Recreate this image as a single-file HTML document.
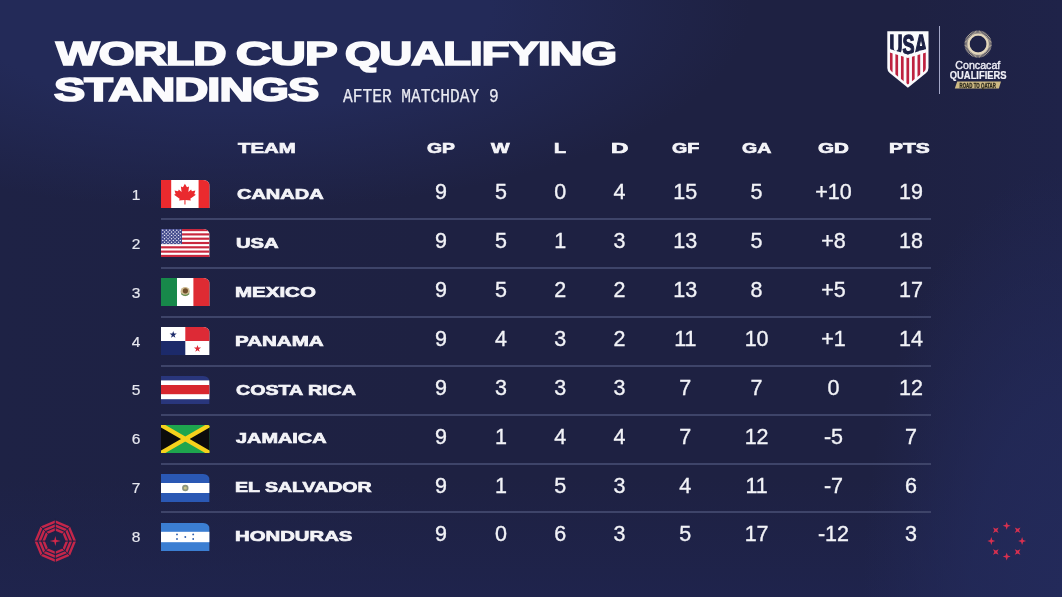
<!DOCTYPE html>
<html><head><meta charset="utf-8"><title>World Cup Qualifying Standings</title>
<style>
*{margin:0;padding:0;box-sizing:border-box}
html,body{width:1062px;height:597px;overflow:hidden}
body{position:relative;background:#1e2143;font-family:"Liberation Sans",Arial,sans-serif}
.bg{position:absolute;left:0;top:0;width:1062px;height:597px;
background:
 radial-gradient(ellipse 200px 430px at 1062px 597px, rgba(35,42,90,1) 0%, rgba(35,42,90,.75) 45%, rgba(35,42,90,0) 100%),
 radial-gradient(ellipse 520px 200px at 230px 10px, rgba(35,42,88,1) 0%, rgba(35,42,88,1) 50%, rgba(35,42,88,0) 100%),
 linear-gradient(180deg,rgba(31,36,78,0) 80%,rgba(31,36,78,.85) 100%),
 linear-gradient(90deg,#1e2245 0%,#1e2142 40%,#1e2142 85%,#1f2349 100%);}
.x{position:absolute;white-space:nowrap;transform-origin:0 0;line-height:1.15}
.c{position:absolute;white-space:nowrap;line-height:1.15;transform:translateX(-50%)}
.tt{font-family:"Liberation Sans",Arial,sans-serif;font-weight:700;font-size:33px;-webkit-text-stroke:1.7px #fbfbfd;letter-spacing:-0.6px;color:#fbfbfd}
.hd{font-family:"Liberation Sans",Arial,sans-serif;font-weight:700;font-size:14.4px;-webkit-text-stroke:0.7px #f4f4f8;color:#f4f4f8}
.sb{font-family:"Liberation Mono",monospace;font-weight:400;font-size:19.5px;-webkit-text-stroke:0.25px #e9eaf2;color:#e9eaf2}
.nu{font-family:"Liberation Sans",Arial,sans-serif;font-weight:400;font-size:21.5px;-webkit-text-stroke:0.35px #f2f3f7;color:#f2f3f7}
.rk{font-family:"Liberation Sans",Arial,sans-serif;font-weight:400;font-size:15.5px;-webkit-text-stroke:0.2px #e6e7ef;color:#e6e7ef}
.ln{position:absolute;left:161px;width:770px;height:2px;background:#3e4469}
.flag{position:absolute;left:161px}
svg{display:block}
</style></head><body>
<div class="bg"></div>

<div class="x tt" style="left:55.60px;top:34.65px;transform:scaleX(1.3959)">WORLD</div>
<div class="x tt" style="left:236.40px;top:34.65px;transform:scaleX(1.4838)">CUP</div>
<div class="x tt" style="left:345.10px;top:34.65px;transform:scaleX(1.3731)">QUALIFYING</div>
<div class="x tt" style="left:54.20px;top:70.75px;transform:scaleX(1.4171)">STANDINGS</div>
<div class="x sb" style="left:343.20px;top:85.70px;transform:scaleX(0.8312)">AFTER MATCHDAY 9</div>
<div class="x hd" style="left:237.50px;top:139.80px;transform:scaleX(1.4125)">TEAM</div>
<div class="x hd" style="left:427.10px;top:139.80px;transform:scaleX(1.3429)">GP</div>
<div class="x hd" style="left:491.30px;top:139.80px;transform:scaleX(1.3643)">W</div>
<div class="x hd" style="left:553.54px;top:139.80px;transform:scaleX(1.3625)">L</div>
<div class="x hd" style="left:610.52px;top:139.80px;transform:scaleX(1.6778)">D</div>
<div class="x hd" style="left:671.60px;top:139.80px;transform:scaleX(1.3650)">GF</div>
<div class="x hd" style="left:741.60px;top:139.80px;transform:scaleX(1.3545)">GA</div>
<div class="x hd" style="left:817.70px;top:139.80px;transform:scaleX(1.4286)">GD</div>
<div class="x hd" style="left:888.94px;top:139.80px;transform:scaleX(1.4556)">PTS</div>
<div class="c rk" style="left:136.00px;top:186.20px">1</div>
<svg class="flag" style="top:180.00px" width="48.6" height="28" viewBox="0 0 48.6 28"><defs><clipPath id="cca"><path d="M0 0H42.1Q48.6 0 48.6 6.5V28H0Z"/></clipPath></defs><g clip-path="url(#cca)"><rect width="48.6" height="28" fill="#fff"/><rect width="10.2" height="28" fill="#ea2a2e"/><rect x="37.6" width="11" height="28" fill="#ea2a2e"/><g transform="translate(23.9 14.2) scale(1.22 1.1) translate(-24.5 -14)"><path d="M24.5 4.6l1.7 3.1 1.7-.8-.6 5.2 2.3-2.3.6 1.5 2.9-.6-.9 3.1 1.3.6-4.6 3.8.5 1.5-4.4-.5v4.2h-.9v-4.2l-4.4.5.5-1.5-4.6-3.8 1.3-.6-.9-3.1 2.9.6.6-1.5 2.3 2.3-.6-5.2 1.7.8z" fill="#ea2a2e"/></g></g></svg>
<div class="x hd" style="left:237.10px;top:186.10px;transform:scaleX(1.3887)">CANADA</div>
<div class="c nu" style="left:440.90px;top:180.40px">9</div>
<div class="c nu" style="left:501.00px;top:180.40px">5</div>
<div class="c nu" style="left:560.20px;top:180.40px">0</div>
<div class="c nu" style="left:619.60px;top:180.40px">4</div>
<div class="c nu" style="left:685.30px;top:180.40px">15</div>
<div class="c nu" style="left:756.60px;top:180.40px">5</div>
<div class="c nu" style="left:833.50px;top:180.40px">+10</div>
<div class="c nu" style="left:911.00px;top:180.40px">19</div>
<div class="ln" style="top:218.20px"></div>
<div class="c rk" style="left:136.00px;top:235.00px">2</div>
<svg class="flag" style="top:228.95px" width="48.6" height="28" viewBox="0 0 48.6 28"><defs><clipPath id="cus"><path d="M0 0H42.1Q48.6 0 48.6 6.5V28H0Z"/></clipPath></defs><g clip-path="url(#cus)"><rect width="48.6" height="28" fill="#fff"/><rect y="0.00" width="48.6" height="2.17" fill="#c9283e"/><rect y="4.31" width="48.6" height="2.17" fill="#c9283e"/><rect y="8.62" width="48.6" height="2.17" fill="#c9283e"/><rect y="12.92" width="48.6" height="2.17" fill="#c9283e"/><rect y="17.23" width="48.6" height="2.17" fill="#c9283e"/><rect y="21.54" width="48.6" height="2.17" fill="#c9283e"/><rect y="25.85" width="48.6" height="2.17" fill="#c9283e"/><rect width="21" height="15.08" fill="#434a8c"/><circle cx="1.80" cy="1.30" r=".7" fill="#eeeef8"/><circle cx="5.30" cy="1.30" r=".7" fill="#eeeef8"/><circle cx="8.80" cy="1.30" r=".7" fill="#eeeef8"/><circle cx="12.30" cy="1.30" r=".7" fill="#eeeef8"/><circle cx="15.80" cy="1.30" r=".7" fill="#eeeef8"/><circle cx="19.30" cy="1.30" r=".7" fill="#eeeef8"/><circle cx="3.55" cy="3.00" r=".7" fill="#eeeef8"/><circle cx="7.05" cy="3.00" r=".7" fill="#eeeef8"/><circle cx="10.55" cy="3.00" r=".7" fill="#eeeef8"/><circle cx="14.05" cy="3.00" r=".7" fill="#eeeef8"/><circle cx="17.55" cy="3.00" r=".7" fill="#eeeef8"/><circle cx="1.80" cy="4.70" r=".7" fill="#eeeef8"/><circle cx="5.30" cy="4.70" r=".7" fill="#eeeef8"/><circle cx="8.80" cy="4.70" r=".7" fill="#eeeef8"/><circle cx="12.30" cy="4.70" r=".7" fill="#eeeef8"/><circle cx="15.80" cy="4.70" r=".7" fill="#eeeef8"/><circle cx="19.30" cy="4.70" r=".7" fill="#eeeef8"/><circle cx="3.55" cy="6.40" r=".7" fill="#eeeef8"/><circle cx="7.05" cy="6.40" r=".7" fill="#eeeef8"/><circle cx="10.55" cy="6.40" r=".7" fill="#eeeef8"/><circle cx="14.05" cy="6.40" r=".7" fill="#eeeef8"/><circle cx="17.55" cy="6.40" r=".7" fill="#eeeef8"/><circle cx="1.80" cy="8.10" r=".7" fill="#eeeef8"/><circle cx="5.30" cy="8.10" r=".7" fill="#eeeef8"/><circle cx="8.80" cy="8.10" r=".7" fill="#eeeef8"/><circle cx="12.30" cy="8.10" r=".7" fill="#eeeef8"/><circle cx="15.80" cy="8.10" r=".7" fill="#eeeef8"/><circle cx="19.30" cy="8.10" r=".7" fill="#eeeef8"/><circle cx="3.55" cy="9.80" r=".7" fill="#eeeef8"/><circle cx="7.05" cy="9.80" r=".7" fill="#eeeef8"/><circle cx="10.55" cy="9.80" r=".7" fill="#eeeef8"/><circle cx="14.05" cy="9.80" r=".7" fill="#eeeef8"/><circle cx="17.55" cy="9.80" r=".7" fill="#eeeef8"/><circle cx="1.80" cy="11.50" r=".7" fill="#eeeef8"/><circle cx="5.30" cy="11.50" r=".7" fill="#eeeef8"/><circle cx="8.80" cy="11.50" r=".7" fill="#eeeef8"/><circle cx="12.30" cy="11.50" r=".7" fill="#eeeef8"/><circle cx="15.80" cy="11.50" r=".7" fill="#eeeef8"/><circle cx="19.30" cy="11.50" r=".7" fill="#eeeef8"/><circle cx="3.55" cy="13.20" r=".7" fill="#eeeef8"/><circle cx="7.05" cy="13.20" r=".7" fill="#eeeef8"/><circle cx="10.55" cy="13.20" r=".7" fill="#eeeef8"/><circle cx="14.05" cy="13.20" r=".7" fill="#eeeef8"/><circle cx="17.55" cy="13.20" r=".7" fill="#eeeef8"/><circle cx="1.80" cy="14.90" r=".7" fill="#eeeef8"/><circle cx="5.30" cy="14.90" r=".7" fill="#eeeef8"/><circle cx="8.80" cy="14.90" r=".7" fill="#eeeef8"/><circle cx="12.30" cy="14.90" r=".7" fill="#eeeef8"/><circle cx="15.80" cy="14.90" r=".7" fill="#eeeef8"/><circle cx="19.30" cy="14.90" r=".7" fill="#eeeef8"/></g></svg>
<div class="x hd" style="left:235.60px;top:235.45px;transform:scaleX(1.4033)">USA</div>
<div class="c nu" style="left:440.90px;top:229.27px">9</div>
<div class="c nu" style="left:501.00px;top:229.27px">5</div>
<div class="c nu" style="left:560.20px;top:229.27px">1</div>
<div class="c nu" style="left:619.60px;top:229.27px">3</div>
<div class="c nu" style="left:685.30px;top:229.27px">13</div>
<div class="c nu" style="left:756.60px;top:229.27px">5</div>
<div class="c nu" style="left:833.50px;top:229.27px">+8</div>
<div class="c nu" style="left:911.00px;top:229.27px">18</div>
<div class="ln" style="top:267.07px"></div>
<div class="c rk" style="left:136.00px;top:283.80px">3</div>
<svg class="flag" style="top:277.90px" width="48.6" height="28" viewBox="0 0 48.6 28"><defs><clipPath id="cmx"><path d="M0 0H42.1Q48.6 0 48.6 6.5V28H0Z"/></clipPath></defs><g clip-path="url(#cmx)"><rect width="48.6" height="28" fill="#fff"/><rect width="16" height="28" fill="#17884a"/><rect x="32.4" width="16.2" height="28" fill="#de2b33"/><circle cx="24.2" cy="13.6" r="4.6" fill="#cdb98e"/><circle cx="24.4" cy="12.8" r="2.6" fill="#6e4e2a"/><path d="M20.2 15.6q4 3.6 8 0" stroke="#5e8e50" stroke-width="1.2" fill="none"/></g></svg>
<div class="x hd" style="left:234.98px;top:284.35px;transform:scaleX(1.4236)">MEXICO</div>
<div class="c nu" style="left:440.90px;top:278.14px">9</div>
<div class="c nu" style="left:501.00px;top:278.14px">5</div>
<div class="c nu" style="left:560.20px;top:278.14px">2</div>
<div class="c nu" style="left:619.60px;top:278.14px">2</div>
<div class="c nu" style="left:685.30px;top:278.14px">13</div>
<div class="c nu" style="left:756.60px;top:278.14px">8</div>
<div class="c nu" style="left:833.50px;top:278.14px">+5</div>
<div class="c nu" style="left:911.00px;top:278.14px">17</div>
<div class="ln" style="top:315.94px"></div>
<div class="c rk" style="left:136.00px;top:332.60px">4</div>
<svg class="flag" style="top:326.85px" width="48.6" height="28" viewBox="0 0 48.6 28"><defs><clipPath id="cpa"><path d="M0 0H42.1Q48.6 0 48.6 6.5V28H0Z"/></clipPath></defs><g clip-path="url(#cpa)"><rect width="48.6" height="28" fill="#fff"/><rect x="24.3" width="24.3" height="14" fill="#dd2a36"/><rect y="14" width="24.3" height="14" fill="#1c2a6a"/><path d="M12.2 4l.85 2.6 2.7 0-2.2 1.6.85 2.6-2.2-1.6-2.2 1.6.85-2.6-2.2-1.6 2.7 0z" fill="#1c2a6a"/><path d="M36.5 18l.85 2.6 2.7 0-2.2 1.6.85 2.6-2.2-1.6-2.2 1.6.85-2.6-2.2-1.6 2.7 0z" fill="#dd2a36"/></g></svg>
<div class="x hd" style="left:234.97px;top:333.35px;transform:scaleX(1.4279)">PANAMA</div>
<div class="c nu" style="left:440.90px;top:327.01px">9</div>
<div class="c nu" style="left:501.00px;top:327.01px">4</div>
<div class="c nu" style="left:560.20px;top:327.01px">3</div>
<div class="c nu" style="left:619.60px;top:327.01px">2</div>
<div class="c nu" style="left:685.30px;top:327.01px">11</div>
<div class="c nu" style="left:756.60px;top:327.01px">10</div>
<div class="c nu" style="left:833.50px;top:327.01px">+1</div>
<div class="c nu" style="left:911.00px;top:327.01px">14</div>
<div class="ln" style="top:364.81px"></div>
<div class="c rk" style="left:136.00px;top:381.40px">5</div>
<svg class="flag" style="top:375.80px" width="48.6" height="28" viewBox="0 0 48.6 28"><defs><clipPath id="ccr"><path d="M0 0H42.1Q48.6 0 48.6 6.5V28H0Z"/></clipPath></defs><g clip-path="url(#ccr)"><rect width="48.6" height="28" fill="#29367c"/><rect y="4.4" width="48.6" height="18.8" fill="#fff"/><rect y="9" width="48.6" height="9.2" fill="#d8272f"/></g></svg>
<div class="x hd" style="left:236.40px;top:382.10px;transform:scaleX(1.3636)">COSTA RICA</div>
<div class="c nu" style="left:440.90px;top:375.88px">9</div>
<div class="c nu" style="left:501.00px;top:375.88px">3</div>
<div class="c nu" style="left:560.20px;top:375.88px">3</div>
<div class="c nu" style="left:619.60px;top:375.88px">3</div>
<div class="c nu" style="left:685.30px;top:375.88px">7</div>
<div class="c nu" style="left:756.60px;top:375.88px">7</div>
<div class="c nu" style="left:833.50px;top:375.88px">0</div>
<div class="c nu" style="left:911.00px;top:375.88px">12</div>
<div class="ln" style="top:413.68px"></div>
<div class="c rk" style="left:136.00px;top:430.20px">6</div>
<svg class="flag" style="top:424.75px" width="48.6" height="28" viewBox="0 0 48.6 28"><defs><clipPath id="cjm"><path d="M0 0H47.1Q48.6 0 48.6 1.5V28H0Z"/></clipPath></defs><g clip-path="url(#cjm)"><rect width="48.6" height="28" fill="#1ea54e"/><path d="M0 0L24.3 14.0L0 28Z" fill="#0c0c0c"/><path d="M48.6 0L24.3 14.0L48.6 28Z" fill="#0c0c0c"/><path d="M0 0L48.6 28M48.6 0L0 28" stroke="#f6d21c" stroke-width="4.4"/></g></svg>
<div class="x hd" style="left:236.40px;top:430.35px;transform:scaleX(1.3803)">JAMAICA</div>
<div class="c nu" style="left:440.90px;top:424.75px">9</div>
<div class="c nu" style="left:501.00px;top:424.75px">1</div>
<div class="c nu" style="left:560.20px;top:424.75px">4</div>
<div class="c nu" style="left:619.60px;top:424.75px">4</div>
<div class="c nu" style="left:685.30px;top:424.75px">7</div>
<div class="c nu" style="left:756.60px;top:424.75px">12</div>
<div class="c nu" style="left:833.50px;top:424.75px">-5</div>
<div class="c nu" style="left:911.00px;top:424.75px">7</div>
<div class="ln" style="top:462.55px"></div>
<div class="c rk" style="left:136.00px;top:479.00px">7</div>
<svg class="flag" style="top:473.70px" width="48.6" height="28" viewBox="0 0 48.6 28"><defs><clipPath id="csv"><path d="M0 0H42.1Q48.6 0 48.6 6.5V28H0Z"/></clipPath></defs><g clip-path="url(#csv)"><rect width="48.6" height="28" fill="#2a58b4"/><rect y="9" width="48.6" height="10" fill="#fff"/><circle cx="24.3" cy="14" r="3.2" fill="#8c957e"/><circle cx="24.3" cy="14" r="1.6" fill="#c9c48a"/></g></svg>
<div class="x hd" style="left:235.04px;top:479.35px;transform:scaleX(1.3560)">EL SALVADOR</div>
<div class="c nu" style="left:440.90px;top:473.62px">9</div>
<div class="c nu" style="left:501.00px;top:473.62px">1</div>
<div class="c nu" style="left:560.20px;top:473.62px">5</div>
<div class="c nu" style="left:619.60px;top:473.62px">3</div>
<div class="c nu" style="left:685.30px;top:473.62px">4</div>
<div class="c nu" style="left:756.60px;top:473.62px">11</div>
<div class="c nu" style="left:833.50px;top:473.62px">-7</div>
<div class="c nu" style="left:911.00px;top:473.62px">6</div>
<div class="ln" style="top:511.42px"></div>
<div class="c rk" style="left:136.00px;top:527.80px">8</div>
<svg class="flag" style="top:522.65px" width="48.6" height="28" viewBox="0 0 48.6 28"><defs><clipPath id="chn"><path d="M0 0H42.1Q48.6 0 48.6 6.5V28H0Z"/></clipPath></defs><g clip-path="url(#chn)"><rect width="48.6" height="28" fill="#3b7ed2"/><rect y="8.8" width="48.6" height="10.4" fill="#fff"/><circle cx="16" cy="11.4" r=".95" fill="#2f5fae"/><circle cx="16" cy="16" r=".95" fill="#2f5fae"/><circle cx="24.3" cy="14" r=".95" fill="#2f5fae"/><circle cx="32.2" cy="11.4" r=".95" fill="#2f5fae"/><circle cx="32.2" cy="16" r=".95" fill="#2f5fae"/></g></svg>
<div class="x hd" style="left:234.99px;top:528.35px;transform:scaleX(1.4122)">HONDURAS</div>
<div class="c nu" style="left:440.90px;top:522.49px">9</div>
<div class="c nu" style="left:501.00px;top:522.49px">0</div>
<div class="c nu" style="left:560.20px;top:522.49px">6</div>
<div class="c nu" style="left:619.60px;top:522.49px">3</div>
<div class="c nu" style="left:685.30px;top:522.49px">5</div>
<div class="c nu" style="left:756.60px;top:522.49px">17</div>
<div class="c nu" style="left:833.50px;top:522.49px">-12</div>
<div class="c nu" style="left:911.00px;top:522.49px">3</div>
<svg style="position:absolute;left:882px;top:26px" width="52" height="66" viewBox="0 0 52 66">
<defs>
<clipPath id="shin"><path d="M7.7 7.6H44.1V41.6Q44.1 44 42.2 45.6L25.9 58.6L9.6 45.6Q7.7 44 7.7 41.6Z"/></clipPath>
<clipPath id="vtop"><path d="M0 0H52V20.6L25.9 28.4L0 20.6Z"/></clipPath>
<clipPath id="vbot"><path d="M0 24.2L25.9 32L52 24.2V66H0Z"/></clipPath>
</defs>
<path d="M5.3 5.2H46.5V42Q46.5 45 44.1 47.1L25.9 61.8L7.7 47.1Q5.3 45 5.3 42Z" fill="#fbfbfd"/>
<g clip-path="url(#shin)">
 <g clip-path="url(#vtop)"><text x="7.5" y="29.2" font-family="Liberation Sans, Arial, sans-serif" font-weight="700" font-size="29" fill="#1c2045" stroke="#1c2045" stroke-width="1.5" stroke-linejoin="miter" textLength="38" lengthAdjust="spacingAndGlyphs">USA</text></g>
 <g clip-path="url(#vbot)"><rect x="7.85" y="20" width="2.7" height="45" fill="#be2240"/><rect x="13.40" y="20" width="2.7" height="45" fill="#be2240"/><rect x="18.95" y="20" width="2.7" height="45" fill="#be2240"/><rect x="24.45" y="20" width="2.7" height="45" fill="#be2240"/><rect x="29.95" y="20" width="2.7" height="45" fill="#be2240"/><rect x="35.50" y="20" width="2.7" height="45" fill="#be2240"/><rect x="41.05" y="20" width="2.7" height="45" fill="#be2240"/></g>
</g>
</svg>
<div style="position:absolute;left:938.8px;top:25.6px;width:1px;height:68.6px;background:#a3a7c8"></div>
<svg style="position:absolute;left:940px;top:22px" width="75" height="75" viewBox="0 0 75 75">
<g stroke="#ddd0b2" stroke-width="0.75"><line x1="46.60" y1="22.10" x2="51.70" y2="22.10"/><line x1="46.55" y1="22.99" x2="51.63" y2="23.52"/><line x1="46.41" y1="23.87" x2="51.40" y2="24.93"/><line x1="46.18" y1="24.73" x2="51.03" y2="26.30"/><line x1="45.87" y1="25.56" x2="50.52" y2="27.63"/><line x1="45.46" y1="26.35" x2="49.88" y2="28.90"/><line x1="44.98" y1="27.10" x2="49.10" y2="30.09"/><line x1="44.42" y1="27.79" x2="48.21" y2="31.20"/><line x1="43.79" y1="28.42" x2="47.20" y2="32.21"/><line x1="43.10" y1="28.98" x2="46.09" y2="33.10"/><line x1="42.35" y1="29.46" x2="44.90" y2="33.88"/><line x1="41.56" y1="29.87" x2="43.63" y2="34.52"/><line x1="40.73" y1="30.18" x2="42.30" y2="35.03"/><line x1="39.87" y1="30.41" x2="40.93" y2="35.40"/><line x1="38.99" y1="30.55" x2="39.52" y2="35.63"/><line x1="38.10" y1="30.60" x2="38.10" y2="35.70"/><line x1="37.21" y1="30.55" x2="36.68" y2="35.63"/><line x1="36.33" y1="30.41" x2="35.27" y2="35.40"/><line x1="35.47" y1="30.18" x2="33.90" y2="35.03"/><line x1="34.64" y1="29.87" x2="32.57" y2="34.52"/><line x1="33.85" y1="29.46" x2="31.30" y2="33.88"/><line x1="33.10" y1="28.98" x2="30.11" y2="33.10"/><line x1="32.41" y1="28.42" x2="29.00" y2="32.21"/><line x1="31.78" y1="27.79" x2="27.99" y2="31.20"/><line x1="31.22" y1="27.10" x2="27.10" y2="30.09"/><line x1="30.74" y1="26.35" x2="26.32" y2="28.90"/><line x1="30.33" y1="25.56" x2="25.68" y2="27.63"/><line x1="30.02" y1="24.73" x2="25.17" y2="26.30"/><line x1="29.79" y1="23.87" x2="24.80" y2="24.93"/><line x1="29.65" y1="22.99" x2="24.57" y2="23.52"/><line x1="29.60" y1="22.10" x2="24.50" y2="22.10"/><line x1="29.65" y1="21.21" x2="24.57" y2="20.68"/><line x1="29.79" y1="20.33" x2="24.80" y2="19.27"/><line x1="30.02" y1="19.47" x2="25.17" y2="17.90"/><line x1="30.33" y1="18.64" x2="25.68" y2="16.57"/><line x1="30.74" y1="17.85" x2="26.32" y2="15.30"/><line x1="31.22" y1="17.10" x2="27.10" y2="14.11"/><line x1="31.78" y1="16.41" x2="27.99" y2="13.00"/><line x1="32.41" y1="15.78" x2="29.00" y2="11.99"/><line x1="33.10" y1="15.22" x2="30.11" y2="11.10"/><line x1="33.85" y1="14.74" x2="31.30" y2="10.32"/><line x1="34.64" y1="14.33" x2="32.57" y2="9.68"/><line x1="35.47" y1="14.02" x2="33.90" y2="9.17"/><line x1="36.33" y1="13.79" x2="35.27" y2="8.80"/><line x1="37.21" y1="13.65" x2="36.68" y2="8.57"/><line x1="38.10" y1="13.60" x2="38.10" y2="8.50"/><line x1="38.99" y1="13.65" x2="39.52" y2="8.57"/><line x1="39.87" y1="13.79" x2="40.93" y2="8.80"/><line x1="40.73" y1="14.02" x2="42.30" y2="9.17"/><line x1="41.56" y1="14.33" x2="43.63" y2="9.68"/><line x1="42.35" y1="14.74" x2="44.90" y2="10.32"/><line x1="43.10" y1="15.22" x2="46.09" y2="11.10"/><line x1="43.79" y1="15.78" x2="47.20" y2="11.99"/><line x1="44.42" y1="16.41" x2="48.21" y2="13.00"/><line x1="44.98" y1="17.10" x2="49.10" y2="14.11"/><line x1="45.46" y1="17.85" x2="49.88" y2="15.30"/><line x1="45.87" y1="18.64" x2="50.52" y2="16.57"/><line x1="46.18" y1="19.47" x2="51.03" y2="17.90"/><line x1="46.41" y1="20.33" x2="51.40" y2="19.27"/><line x1="46.55" y1="21.21" x2="51.63" y2="20.68"/></g>
<circle cx="38.1" cy="22.1" r="9.6" fill="none" stroke="#e2d6bc" stroke-width="2.2"/>
<text x="15.3" y="47" font-family="Liberation Sans, Arial, sans-serif" font-weight="400" font-size="10.2" fill="#eeeef6" stroke="#eeeef6" stroke-width="0.35" textLength="45" lengthAdjust="spacingAndGlyphs">Concacaf</text>
<text x="9.8" y="56.5" font-family="Liberation Sans, Arial, sans-serif" font-weight="700" font-size="10.6" fill="#f2f2f8" stroke="#f2f2f8" stroke-width="0.2" textLength="56.8" lengthAdjust="spacingAndGlyphs">QUALIFIERS</text>
<path d="M17.2 59.6H61L58.9 66.6H14.8Z" fill="#cdb984"/>
<text x="19.5" y="65.6" font-family="Liberation Sans, Arial, sans-serif" font-weight="700" font-size="6.9" fill="#2d2a1e" stroke="#2d2a1e" stroke-width="0.3" textLength="36.5" lengthAdjust="spacingAndGlyphs">ROAD TO QATAR</text>
</svg>
<svg style="position:absolute;left:29px;top:515px" width="52" height="52" viewBox="-26 -26 52 52"><g transform="translate(0.3 0.1)"><path d="M11.69 0.00L8.27 8.27L0.00 11.69L-8.27 8.27L-11.69 0.00L-8.27 -8.27L-0.00 -11.69L8.27 -8.27Z" fill="none" stroke="#c4264a" stroke-width="2.45"/><path d="M15.59 0.00L11.02 11.02L0.00 15.59L-11.02 11.02L-15.59 0.00L-11.02 -11.02L-0.00 -15.59L11.02 -11.02Z" fill="none" stroke="#c4264a" stroke-width="2.45"/><path d="M19.48 0.00L13.78 13.78L0.00 19.48L-13.78 13.78L-19.48 0.00L-13.78 -13.78L-0.00 -19.48L13.78 -13.78Z" fill="none" stroke="#c4264a" stroke-width="2.45"/><path d="M8.50 0.00L22.50 0.00" stroke="#1e2143" stroke-width="1.0"/><path d="M6.01 6.01L15.91 15.91" stroke="#1e2143" stroke-width="1.0"/><path d="M0.00 8.50L0.00 22.50" stroke="#1e2143" stroke-width="1.0"/><path d="M-6.01 6.01L-15.91 15.91" stroke="#1e2143" stroke-width="1.0"/><path d="M-8.50 0.00L-22.50 0.00" stroke="#1e2143" stroke-width="1.0"/><path d="M-6.01 -6.01L-15.91 -15.91" stroke="#1e2143" stroke-width="1.0"/><path d="M-0.00 -8.50L-0.00 -22.50" stroke="#1e2143" stroke-width="1.0"/><path d="M6.01 -6.01L15.91 -15.91" stroke="#1e2143" stroke-width="1.0"/><path d="M0 -5L1 -1L5.6 0L1 1L0 5L-1 1L-5.6 0L-1 -1Z" fill="#d3284a"/></g></svg>
<svg style="position:absolute;left:981px;top:515px" width="52" height="52" viewBox="-26 -26 52 52"><g transform="translate(-0.3 0.1)"><path transform="translate(0.00 -15.40) rotate(0)" d="M0 -4L1 -1L4 0L1 1L0 4L-1 1L-4 0L-1 -1Z" fill="#d8304f"/><path transform="translate(10.89 -10.89) rotate(45)" d="M0 -4L1 -1L4 0L1 1L0 4L-1 1L-4 0L-1 -1Z" fill="#d8304f"/><path transform="translate(15.40 0.00) rotate(90)" d="M0 -4L1 -1L4 0L1 1L0 4L-1 1L-4 0L-1 -1Z" fill="#d8304f"/><path transform="translate(10.89 10.89) rotate(135)" d="M0 -4L1 -1L4 0L1 1L0 4L-1 1L-4 0L-1 -1Z" fill="#d8304f"/><path transform="translate(0.00 15.40) rotate(180)" d="M0 -4L1 -1L4 0L1 1L0 4L-1 1L-4 0L-1 -1Z" fill="#d8304f"/><path transform="translate(-10.89 10.89) rotate(225)" d="M0 -4L1 -1L4 0L1 1L0 4L-1 1L-4 0L-1 -1Z" fill="#d8304f"/><path transform="translate(-15.40 0.00) rotate(270)" d="M0 -4L1 -1L4 0L1 1L0 4L-1 1L-4 0L-1 -1Z" fill="#d8304f"/><path transform="translate(-10.89 -10.89) rotate(315)" d="M0 -4L1 -1L4 0L1 1L0 4L-1 1L-4 0L-1 -1Z" fill="#d8304f"/></g></svg>
</body></html>
